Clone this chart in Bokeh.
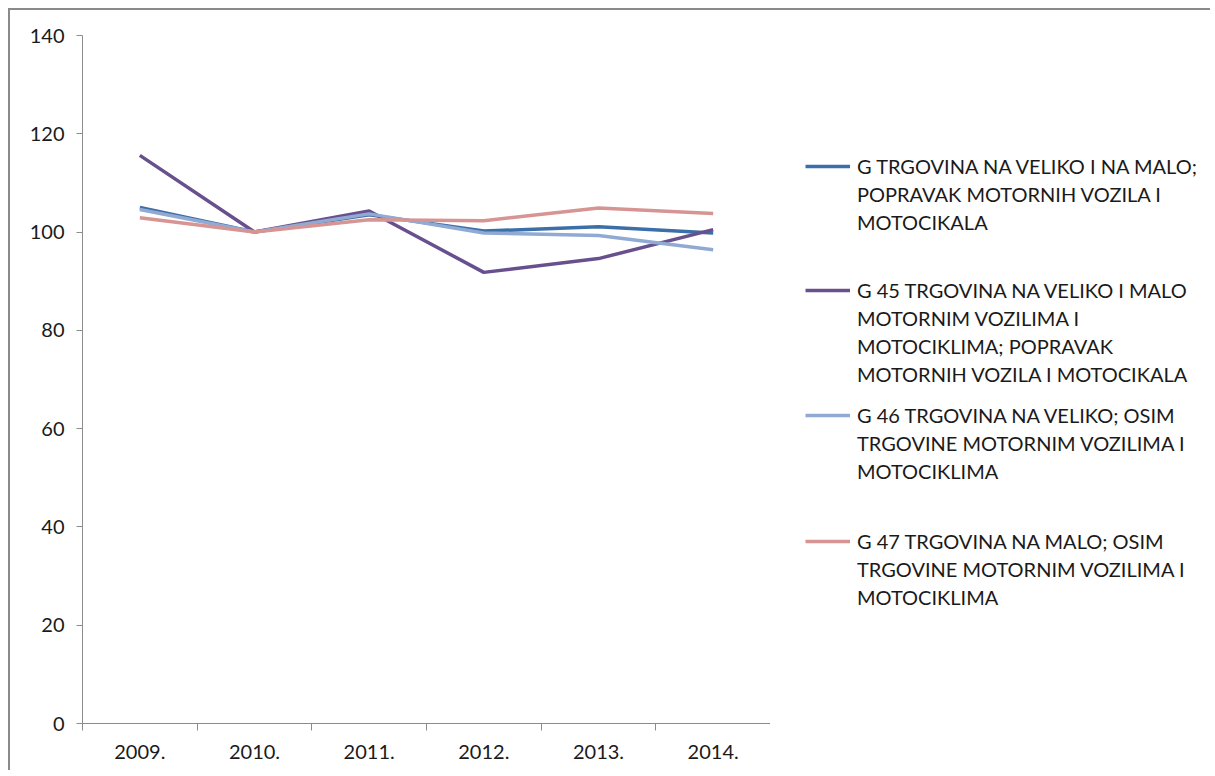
from bokeh.plotting import figure
from bokeh.layouts import row
from bokeh.models import Range1d, FixedTicker, Legend, LegendItem
from bokeh.embed import file_html
from bokeh.resources import INLINE

years = ["2009.", "2010.", "2011.", "2012.", "2013.", "2014."]
g_total = [105.0, 100.0, 103.5, 100.2, 101.1, 99.8]
g_45 = [115.6, 100.0, 104.3, 91.8, 94.6, 100.5]
g_46 = [104.6, 100.0, 103.7, 99.8, 99.3, 96.4]
g_47 = [102.9, 100.0, 102.5, 102.3, 104.9, 103.8]
y_ticks = [0, 20, 40, 60, 80, 100, 120, 140]

labels = [
    ["G TRGOVINA NA VELIKO I NA MALO;", "POPRAVAK MOTORNIH VOZILA I", "MOTOCIKALA"],
    ["G 45 TRGOVINA NA VELIKO I MALO", "MOTORNIM VOZILIMA I", "MOTOCIKLIMA; POPRAVAK",
     "MOTORNIH VOZILA I MOTOCIKALA"],
    ["G 46 TRGOVINA NA VELIKO; OSIM", "TRGOVINE MOTORNIM VOZILIMA I", "MOTOCIKLIMA"],
    ["G 47 TRGOVINA NA MALO; OSIM", "TRGOVINE MOTORNIM VOZILIMA I", "MOTOCIKLIMA"],
]
series = [g_total, g_45, g_46, g_47]
colors = ["#3C6EA8", "#68508E", "#91AAD4", "#D69593"]

FONT = "Lato"
FS = "20px"
LINE_PX = 28                          # legend text line pitch
ROW_H = 30                            # height of one legend row box
ITEM_CENTERS = [156, 280, 405, 531]   # legend glyph rows, px below canvas top
H = 760
B_TOP, B_BOTTOM = 25, 47
FRAME_BOTTOM = H - B_BOTTOM

xs = list(range(len(years)))

p = figure(width=760, height=H, output_backend="svg", toolbar_location=None,
           x_range=Range1d(-0.5, len(years) - 0.5), y_range=Range1d(0, 140),
           min_border_left=72, min_border_top=B_TOP, min_border_right=0,
           min_border_bottom=B_BOTTOM)
p.outline_line_color = None
p.grid.visible = False
p.background_fill_color = "white"
p.border_fill_color = "white"

for vals, col in zip(series, colors):
    p.line(xs, vals, line_color=col, line_width=3.5)

# y axis
ya = p.yaxis[0]
ya.ticker = FixedTicker(ticks=y_ticks)
ya.axis_line_color = "#8c8c8c"
ya.major_tick_line_color = "#8c8c8c"
ya.major_tick_out = 6
ya.major_tick_in = 0
ya.minor_tick_line_color = None
ya.major_label_text_font = FONT
ya.major_label_text_font_size = FS
ya.major_label_text_color = "#1a1a1a"
ya.major_label_standoff = 12

# x axis
xa = p.xaxis[0]
xa.ticker = FixedTicker(ticks=xs, minor_ticks=[i - 0.5 for i in range(len(years) + 1)])
xa.major_label_overrides = {i: y for i, y in enumerate(years)}
xa.axis_line_color = "#8c8c8c"
xa.major_tick_line_color = None
xa.major_tick_out = 0
xa.major_tick_in = 0
xa.minor_tick_line_color = "#8c8c8c"
xa.minor_tick_out = 7
xa.minor_tick_in = 0
xa.major_label_text_font = FONT
xa.major_label_text_font_size = FS
xa.major_label_text_color = "#1a1a1a"
xa.major_label_standoff = 14

# legend panel: a separate blank plot holding the legend entries
lf = figure(width=440, height=H, output_backend="svg", toolbar_location=None,
            x_range=Range1d(0, 1), y_range=Range1d(0, 1),
            x_axis_location=None, y_axis_location=None,
            min_border_left=0, min_border_right=0,
            min_border_top=B_TOP, min_border_bottom=B_BOTTOM)
lf.outline_line_color = None
lf.grid.visible = False
lf.border_fill_color = "white"


def legend_row(renderer, text, cy):
    lg = Legend(items=[LegendItem(label=text, renderers=[renderer])],
                location=(35, FRAME_BOTTOM - (cy + ROW_H / 2)))
    lg.border_line_color = None
    lg.background_fill_alpha = 0
    lg.label_text_font = FONT
    lg.label_text_font_size = FS
    lg.label_text_color = "#1a1a1a"
    lg.glyph_width = 45
    lg.glyph_height = ROW_H
    lg.label_height = ROW_H
    lg.label_standoff = 7
    lg.padding = 0
    lg.margin = 0
    lf.add_layout(lg, "center")


nan = float("nan")
blank = lf.line([nan], [nan], line_alpha=0)
for col, lines, cy in zip(colors, labels, ITEM_CENTERS):
    key = lf.line([nan], [nan], line_color=col, line_width=3.5)
    for k, text in enumerate(lines):
        legend_row(key if k == 0 else blank, text, cy + k * LINE_PX)

layout = row(p, lf, styles={"border-top": "2px solid #8a8a8a",
                            "border-left": "2px solid #8a8a8a",
                            "margin-left": "8px", "margin-top": "8px"})

open("out.html", "w").write(file_html(layout, INLINE))
